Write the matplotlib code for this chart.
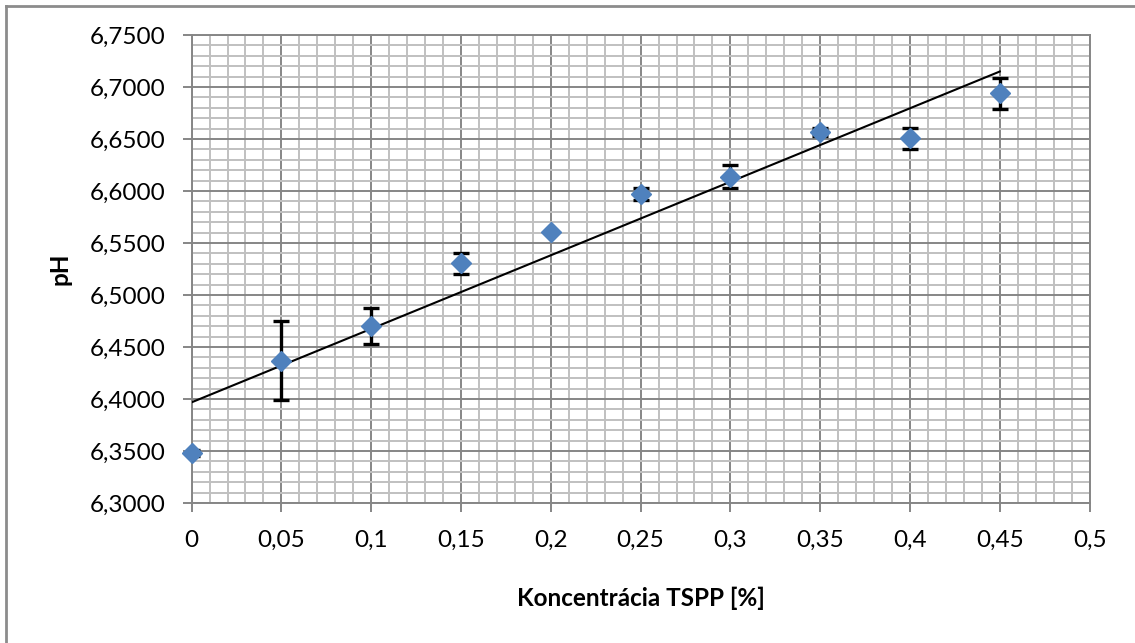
import numpy as np
import matplotlib
matplotlib.use("Agg")
import matplotlib.pyplot as plt
from matplotlib.ticker import MultipleLocator, FuncFormatter
from matplotlib.lines import Line2D

# TSPP concentration [%] and measured pH with standard deviation
concentration = [0.0, 0.05, 0.10, 0.15, 0.20, 0.25, 0.30, 0.35, 0.40, 0.45]
ph_mean = [6.3478, 6.4369, 6.4702, 6.5305, 6.5606, 6.5971, 6.6138, 6.6570, 6.6507, 6.6939]
ph_std = [0.003, 0.0377, 0.0177, 0.010, 0.0, 0.006, 0.0113, 0.004, 0.0101, 0.0152]

x_ticks = [0, 0.05, 0.1, 0.15, 0.2, 0.25, 0.3, 0.35, 0.4, 0.45, 0.5]
y_ticks = [6.30, 6.35, 6.40, 6.45, 6.50, 6.55, 6.60, 6.65, 6.70, 6.75]

plt.rcParams['font.family'] = ['Lato', 'DejaVu Sans']

W, H = 1135, 643
ax_l, ax_r, ax_t, ax_b = 191.6, 1089.6, 35, 503
fig = plt.figure(figsize=(W / 100, H / 100), dpi=100)
ax = fig.add_axes([ax_l / W, 1 - ax_b / H, (ax_r - ax_l) / W, (ax_b - ax_t) / H])

major_c = '#868686'
minor_c = '#c0c0c0'

ax.set_xlim(0, 0.5)
ax.set_ylim(6.30, 6.75)
ax.set_xticks(x_ticks)
ax.set_yticks(y_ticks)
ax.xaxis.set_minor_locator(MultipleLocator(0.01))
ax.yaxis.set_minor_locator(MultipleLocator(0.01))

ax.xaxis.set_major_formatter(FuncFormatter(lambda v, p: ('%g' % round(v, 2)).replace('.', ',')))
ax.yaxis.set_major_formatter(FuncFormatter(lambda v, p: ('%.4f' % v).replace('.', ',')))

ax.grid(which='minor', color=minor_c, linewidth=1.4, zorder=0)
ax.grid(which='major', color=major_c, linewidth=1.4, zorder=0.5)
ax.set_axisbelow(True)

ax.tick_params(which='major', direction='out', length=6.5, width=1.4, color=major_c,
               labelsize=17.5, labelcolor='black')
ax.tick_params(axis='y', which='major', pad=12)
ax.tick_params(axis='x', which='major', pad=13)
ax.tick_params(which='minor', length=0)

for side, sp in ax.spines.items():
    sp.set_color(major_c)
    sp.set_linewidth(1.4)

# linear trendline through the measurements
k, q = np.polyfit(concentration, ph_mean, 1)
xs = np.array([concentration[0], concentration[-1]])
ax.plot(xs, k * xs + q, color='black', linewidth=1.5, zorder=3)

ax.errorbar(concentration, ph_mean, yerr=ph_std, fmt='none', ecolor='black',
            elinewidth=2.4, capsize=6, capthick=2.4, zorder=4)
ax.plot(concentration, ph_mean, linestyle='none', marker='D', markersize=10.5,
        color='#4f81bd', markeredgecolor='#4f81bd', zorder=5, clip_on=False)

ax.set_xlabel('Koncentrácia TSPP [%]', fontsize=17.5, fontweight='bold', va='center')
ax.set_ylabel('pH', fontsize=17.5, fontweight='bold', va='center')
ax.xaxis.set_label_coords(0.5, -(598 - ax_b) / (ax_b - ax_t))
ax.yaxis.set_label_coords(-(ax_l - 60) / (ax_r - ax_l), 0.5)

# outer chart frame (top and left edges)
fig.add_artist(Line2D([6 / W, 6 / W], [0, 1 - 6 / H], transform=fig.transFigure,
                      color='#8c8c8c', linewidth=2))
fig.add_artist(Line2D([6 / W, 1], [1 - 6 / H, 1 - 6 / H], transform=fig.transFigure,
                      color='#8c8c8c', linewidth=2))

fig.savefig('out.png', dpi=100)
